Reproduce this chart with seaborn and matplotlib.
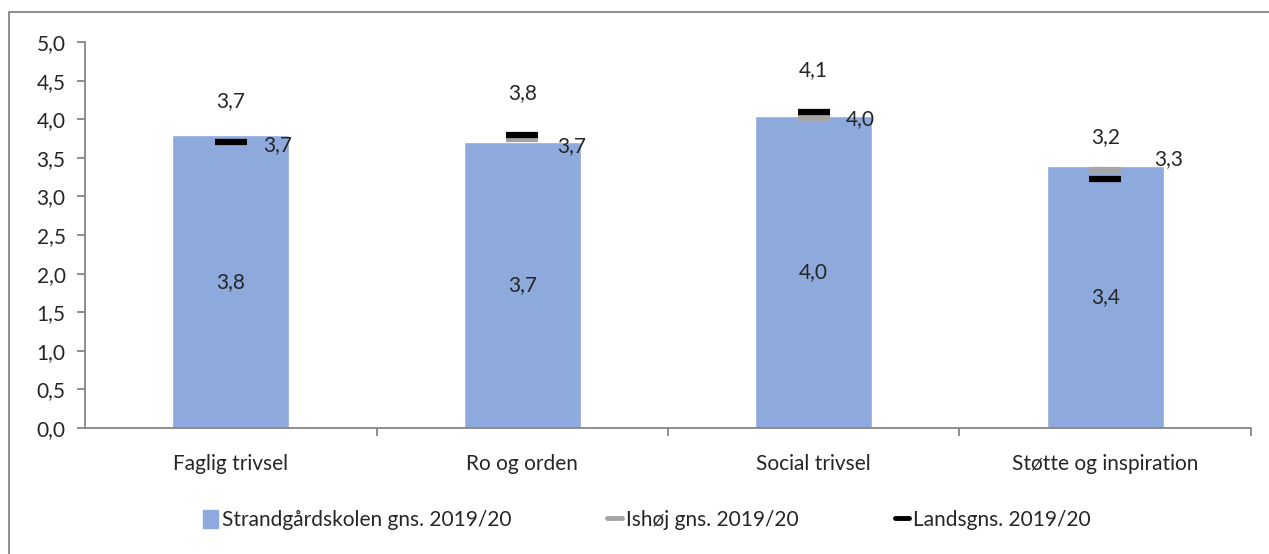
import seaborn as sns
import matplotlib.pyplot as plt
import matplotlib.patches as mpatches
from matplotlib.lines import Line2D
import pandas as pd

# Data
kategorier = ["Faglig trivsel", "Ro og orden", "Social trivsel", "Støtte og inspiration"]
skole = [3.79, 3.71, 4.04, 3.40]
ishoj = [3.70, 3.74, 4.02, 3.34]
lands = [3.70, 3.80, 4.10, 3.23]
y_ticks = [0.0, 0.5, 1.0, 1.5, 2.0, 2.5, 3.0, 3.5, 4.0, 4.5, 5.0]

navn_skole = "Strandgårdskolen gns. 2019/20"
navn_ishoj = "Ishøj gns. 2019/20"
navn_lands = "Landsgns. 2019/20"

df = pd.DataFrame({"kategori": kategorier, "skole": skole, "ishoj": ishoj, "lands": lands})

def komma(v):
    return f"{v:.1f}".replace(".", ",")

sns.set_style("white")
plt.rcParams["font.family"] = ["Lato", "DejaVu Sans"]
fs = 15

blaa = "#8EA9DB"
graa = "#A5A5A5"
akse = "#868686"

fig = plt.figure(figsize=(12.69, 5.54), dpi=100)
ax = fig.add_axes([0.067, 0.2274, 0.9188, 0.6966])

sns.barplot(data=df, x="kategori", y="skole", color=blaa, width=0.4,
            saturation=1, ax=ax)

# markører for Ishøj og landsgennemsnit
ax.plot(df["kategori"], df["ishoj"], linestyle="none", marker="_",
        markersize=23, markeredgewidth=4.5, color=graa, zorder=3)
ax.plot(df["kategori"], df["lands"], linestyle="none", marker="_",
        markersize=23, markeredgewidth=4.5, color="black", zorder=4)

# værdietiketter
for i, row in df.iterrows():
    ax.text(i, row["skole"] / 2, komma(row["skole"]), ha="center", va="center",
            fontsize=fs)
    ax.annotate(komma(row["lands"]), (i, row["lands"]), xytext=(0, 30),
                textcoords="offset points", ha="center", va="center", fontsize=fs)
ishoj_offset = [(23, -2), (25, -5), (23, -1), (35, 8)]
for i, row in df.iterrows():
    dx, dy = ishoj_offset[i]
    ax.annotate(komma(row["ishoj"]), (i, row["ishoj"]), xytext=(dx, dy),
                textcoords="offset points", ha="left", va="center", fontsize=fs)

ax.set_ylim(0, 5)
ax.set_xlim(-0.5, 3.5)
ax.set_yticks(y_ticks)
ax.set_yticklabels([komma(t) for t in y_ticks], fontsize=fs)
ax.set_xticks(range(len(kategorier)))
ax.set_xticklabels(kategorier, fontsize=fs)
ax.set_xlabel("")
ax.set_ylabel("")

for s in ["top", "right"]:
    ax.spines[s].set_visible(False)
for s in ["left", "bottom"]:
    ax.spines[s].set_color(akse)
    ax.spines[s].set_linewidth(1.3)

ax.tick_params(axis="y", which="major", left=True, length=6, color=akse, width=1.3, pad=8)
ax.tick_params(axis="x", which="major", bottom=False, pad=15)
ax.set_xticks([0.5, 1.5, 2.5, 3.5], minor=True)
ax.tick_params(axis="x", which="minor", bottom=True, length=6, color=akse, width=1.3)

handles = [
    mpatches.Patch(color=blaa, label=navn_skole),
    Line2D([], [], color=graa, linewidth=3.5, label=navn_ishoj),
    Line2D([], [], color="black", linewidth=3.5, label=navn_lands),
]
fig.legend(handles=handles, loc="center", bbox_to_anchor=(0.51, 0.061), ncol=3,
           frameon=False, fontsize=fs, handlelength=0.7, handleheight=0.9,
           handletextpad=0.2, columnspacing=4.6)

# ramme om diagrammet
fig.patches.append(mpatches.Rectangle((0.0071, -0.1), 1.2, 1.078,
                                      transform=fig.transFigure, fill=False,
                                      edgecolor=akse, linewidth=1.3))

fig.savefig("out.png", dpi=100)
